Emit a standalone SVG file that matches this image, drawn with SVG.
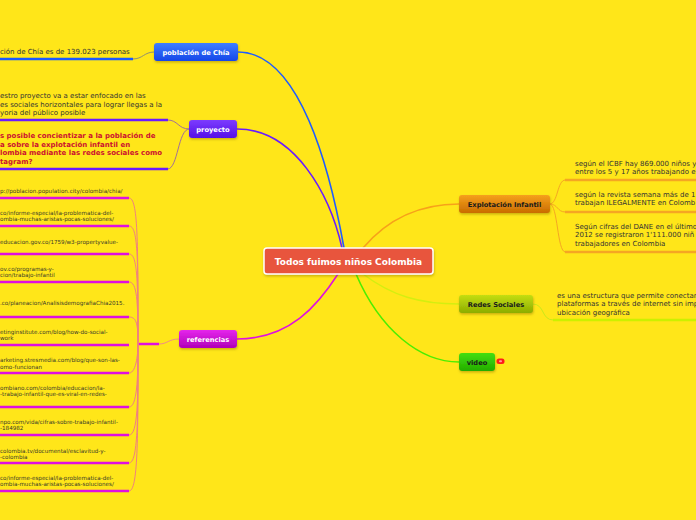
<svg xmlns="http://www.w3.org/2000/svg" width="696" height="520" viewBox="0 0 696 520">
<defs>
<linearGradient id="gBlue" x1="0" y1="0" x2="0" y2="1"><stop offset="0" stop-color="#3f7eff"/><stop offset="1" stop-color="#1446e8"/></linearGradient>
<linearGradient id="gPurple" x1="0" y1="0" x2="0" y2="1"><stop offset="0" stop-color="#7c3cff"/><stop offset="1" stop-color="#5510e6"/></linearGradient>
<linearGradient id="gMag" x1="0" y1="0" x2="0" y2="1"><stop offset="0" stop-color="#e526ec"/><stop offset="1" stop-color="#b000b8"/></linearGradient>
<linearGradient id="gOrange" x1="0" y1="0" x2="0" y2="1"><stop offset="0" stop-color="#f6a11c"/><stop offset="1" stop-color="#c96c00"/></linearGradient>
<linearGradient id="gLime" x1="0" y1="0" x2="0" y2="1"><stop offset="0" stop-color="#c4de12"/><stop offset="1" stop-color="#8cad00"/></linearGradient>
<linearGradient id="gGreen" x1="0" y1="0" x2="0" y2="1"><stop offset="0" stop-color="#44de10"/><stop offset="1" stop-color="#22ad00"/></linearGradient>
<filter id="sh" x="-20%" y="-30%" width="140%" height="170%"><feDropShadow dx="0.5" dy="1.5" stdDeviation="1" flood-color="#8a7000" flood-opacity="0.45"/></filter>
</defs>
<style>
.nt{font-family:"DejaVu Sans",Verdana,sans-serif;font-weight:bold;font-size:6.7px;text-anchor:middle}
.w{fill:#ffffff}
.k{fill:#1a1a1a}
.tx{font-family:"DejaVu Sans",Verdana,sans-serif;font-size:7px;fill:#333333}
.rd{font-family:"DejaVu Sans",Verdana,sans-serif;font-size:7px;font-weight:bold;fill:#cc1030}
.url{font-family:"DejaVu Sans",Verdana,sans-serif;font-size:5.6px;fill:#3a3a2a}
.c{fill:none;stroke-linecap:round}
.ul{stroke-width:2.5;fill:none}
</style>
<rect width="696" height="520" fill="#ffe619"/>

<g id="connectors">
<path class="c" d="M238,52 C300,52 330,170 344,248" stroke="#1f5cff" stroke-width="1.6"/>
<path class="c" d="M237,129 C295,129 330,195 342,248" stroke="#6a1bff" stroke-width="1.6"/>
<path class="c" d="M237,339 C290,339 318,305 338,274" stroke="#e010e0" stroke-width="1.6"/>
<path class="c" d="M459,204 C415,204 385,222 363,248" stroke="#f7a11a" stroke-width="1.6"/>
<path class="c" d="M363,274 C392,296 420,304 459,304" stroke="#d4ee10" stroke-width="1.4"/>
<path class="c" d="M356,274 C380,330 420,362 459,362" stroke="#4cee00" stroke-width="1.6"/>
<!-- children -->
<path class="c" d="M154,52 C144,52 143,59 133,59" stroke="#8f8f70" stroke-width="1"/>
<path class="c" d="M189,129 C178,129 178,120 168,120" stroke="#a27098" stroke-width="1"/>
<path class="c" d="M189,129 C178,129 178,169 168,169" stroke="#a27098" stroke-width="1"/>
<path class="c" d="M179,339 C168,339 168,344 159,344" stroke="#f08a8a" stroke-width="1"/>
<line x1="137" y1="344" x2="159" y2="344" stroke="#e010e0" stroke-width="2.5"/>
<g stroke="#f08080" stroke-width="1" fill="none">
<path d="M138,344 C138,240 138,198 129,198"/>
<path d="M138,344 C138,255 138,226 129,226"/>
<path d="M138,344 C138,275 137,254 129,254"/>
<path d="M138,344 C138,300 137,282 129,282"/>
<path d="M138,344 C138,325 137,317 129,317"/>
<path d="M138,344 C138,350 137,373 129,373"/>
<path d="M138,344 C138,380 137,407 129,407"/>
<path d="M138,344 C138,400 138,435 129,435"/>
<path d="M138,344 C138,420 138,463 129,463"/>
<path d="M138,344 C138,440 138,491 129,491"/>
</g>
<path class="c" d="M550,204 C558,204 557,180 565,180" stroke="#f5a623" stroke-width="1"/>
<path class="c" d="M550,204 C558,204 557,212 565,212" stroke="#f5a623" stroke-width="1"/>
<path class="c" d="M550,204 C558,204 557,252 565,252" stroke="#f5a623" stroke-width="1"/>
<path class="c" d="M533,304 C545,304 541,320 553,320" stroke="#c8e81a" stroke-width="1"/>
</g>

<g id="underlines">
<line class="ul" x1="0" y1="59" x2="133" y2="59" stroke="#1a5aff"/>
<line class="ul" x1="0" y1="120" x2="168" y2="120" stroke="#6a1bff"/>
<line class="ul" x1="0" y1="169" x2="168" y2="169" stroke="#6a1bff"/>
<g stroke="#e010e0" stroke-width="2.5">
<line x1="0" y1="198" x2="129" y2="198"/>
<line x1="0" y1="226" x2="129" y2="226"/>
<line x1="0" y1="254" x2="129" y2="254"/>
<line x1="0" y1="282" x2="129" y2="282"/>
<line x1="0" y1="317" x2="129" y2="317"/>
<line x1="0" y1="345" x2="129" y2="345"/>
<line x1="0" y1="373" x2="129" y2="373"/>
<line x1="0" y1="407" x2="129" y2="407"/>
<line x1="0" y1="435" x2="129" y2="435"/>
<line x1="0" y1="463" x2="129" y2="463"/>
<line x1="0" y1="491" x2="129" y2="491"/>
</g>
<g stroke="#f5a623" stroke-width="2.5">
<line x1="565" y1="180" x2="696" y2="180"/>
<line x1="565" y1="212" x2="696" y2="212"/>
<line x1="565" y1="252" x2="696" y2="252"/>
</g>
<line class="ul" x1="553" y1="320" x2="696" y2="320" stroke="#ccf000"/>
</g>

<g id="root">
<rect x="264" y="248" width="169" height="26" rx="3" fill="#e8543c" stroke="#ffffff" stroke-width="1.5" filter="url(#sh)"/>
<text x="348.5" y="264.5" class="nt w" style="font-size:9px">Todos fuimos niños Colombia</text>
</g>

<g id="poblacion">
<rect x="154" y="43" width="84" height="18" rx="3" fill="url(#gBlue)" filter="url(#sh)"/>
<text x="196" y="54.5" class="nt w">población de Chía</text>
</g>
<g id="poblacion-t1">
<text x="0" y="54" class="tx">ción de Chía es de 139.023 personas</text>
</g>

<g id="proyecto">
<rect x="189" y="120" width="48" height="18" rx="3" fill="url(#gPurple)" filter="url(#sh)"/>
<text x="213" y="131.5" class="nt w">proyecto</text>
</g>
<g id="proyecto-t1">
<text class="tx"><tspan x="0" y="98">estro proyecto va a estar enfocado en las</tspan><tspan x="0" y="106.5">es sociales horizontales para lograr llegas a la</tspan><tspan x="0" y="115">yoria del público posible</tspan></text>
</g>
<g id="proyecto-t2">
<text class="rd"><tspan x="0" y="137.5">s posible concientizar a la población de</tspan><tspan x="0" y="146.5">a sobre la explotación infantil en</tspan><tspan x="0" y="155">lombia mediante las redes sociales como</tspan><tspan x="0" y="164">tagram?</tspan></text>
</g>

<g id="referencias">
<rect x="179" y="330" width="58" height="18" rx="3" fill="url(#gMag)" filter="url(#sh)"/>
<text x="208" y="341.5" class="nt w">referencias</text>
</g>
<g id="ref-urls" class="url">
<text x="0" y="193">p://poblacion.population.city/colombia/chia/</text>
<text><tspan x="0" y="215">co/informe-especial/la-problematica-del-</tspan><tspan x="0" y="221">ombia-muchas-aristas-pocas-soluciones/</tspan></text>
<text x="0" y="243.5">educacion.gov.co/1759/w3-propertyvalue-</text>
<text><tspan x="0" y="270.5">ov.co/programas-y-</tspan><tspan x="0" y="277">cion/trabajo-infantil</tspan></text>
<text x="0" y="304.5">.co/planeacion/AnalisisdemografiaChia2015.</text>
<text><tspan x="0" y="333.5">etinginstitute.com/blog/how-do-social-</tspan><tspan x="0" y="340">work</tspan></text>
<text><tspan x="0" y="362">arketing.stresmedia.com/blog/que-son-las-</tspan><tspan x="0" y="368.5">omo-funcionan</tspan></text>
<text><tspan x="0" y="389.5">ombiano.com/colombia/educacion/la-</tspan><tspan x="0" y="395.5">-trabajo-infantil-que-es-viral-en-redes-</tspan></text>
<text><tspan x="0" y="423.5">npo.com/vida/cifras-sobre-trabajo-infantil-</tspan><tspan x="0" y="430">-184982</tspan></text>
<text><tspan x="0" y="452.5">colombia.tv/documental/esclavitud-y-</tspan><tspan x="0" y="458.5">-colombia</tspan></text>
<text><tspan x="0" y="480">co/informe-especial/la-problematica-del-</tspan><tspan x="0" y="486">ombia-muchas-aristas-pocas-soluciones/</tspan></text>
</g>

<g id="explotacion">
<rect x="459" y="195" width="91" height="18" rx="3" fill="url(#gOrange)" filter="url(#sh)"/>
<text x="504.5" y="206.5" class="nt k">Explotación Infantil</text>
</g>
<g id="explotacion-t1">
<text class="tx"><tspan x="575" y="165.5">según el ICBF hay 869.000 niños y</tspan><tspan x="575" y="174.3">entre los 5 y 17 años trabajando e</tspan></text>
</g>
<g id="explotacion-t2">
<text class="tx"><tspan x="575" y="196.6">según la revista semana más de 1</tspan><tspan x="575" y="205">trabajan ILEGALMENTE en Colomb</tspan></text>
</g>
<g id="explotacion-t3">
<text class="tx"><tspan x="575" y="228.5">Según cifras del DANE en el último</tspan><tspan x="575" y="237.3">2012 se registraron 1'111.000 niñ</tspan><tspan x="575" y="246.2">trabajadores en Colombia</tspan></text>
</g>

<g id="redes">
<rect x="459" y="295" width="74" height="18" rx="3" fill="url(#gLime)" filter="url(#sh)"/>
<text x="496" y="306.5" class="nt k">Redes Sociales</text>
</g>
<g id="redes-t1">
<text class="tx"><tspan x="557" y="297.5">es una estructura que permite conectar</tspan><tspan x="557" y="306.2">plataformas a través de internet sin imp</tspan><tspan x="557" y="314.7">ubicación geográfica</tspan></text>
</g>

<g id="video">
<rect x="459" y="353" width="36" height="18" rx="3" fill="url(#gGreen)" filter="url(#sh)"/>
<text x="477" y="364.5" class="nt k">video</text>
<rect x="496.5" y="358.5" width="8" height="5.5" rx="2.5" fill="#ff1a1a"/>
<rect x="499" y="360.3" width="3" height="2" rx="1" fill="#ff9a9a"/>
</g>
</svg>
